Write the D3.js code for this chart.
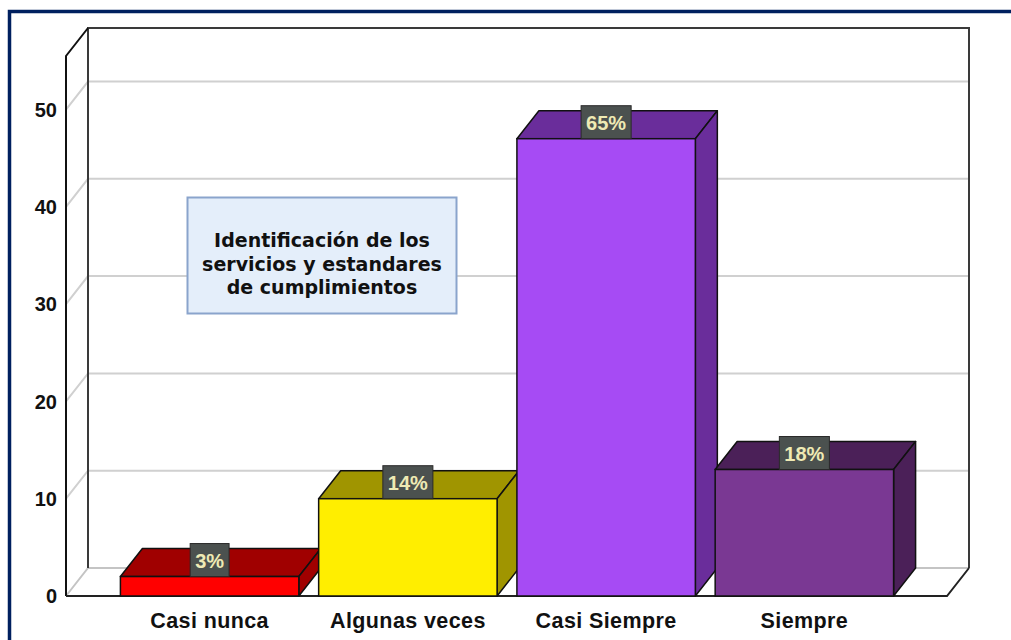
<!DOCTYPE html>
<meta charset="utf-8">
<style>
body { margin: 0; background: #fff; }
svg { display: block; }
.tick-label { font-family: "Liberation Sans", Arial, sans-serif; font-weight: bold; font-size: 20px; fill: #111; }
.cat-label { font-family: "Liberation Sans", Arial, sans-serif; font-weight: bold; font-size: 21.5px; letter-spacing: 0.4px; fill: #111; }
.pct { font-family: "Liberation Sans", Arial, sans-serif; font-weight: bold; font-size: 20px; fill: #eeeab4; }
.note { font-family: "DejaVu Sans", sans-serif; font-weight: bold; font-size: 19px; fill: #111; }
</style>
<svg width="1011" height="640"></svg>
<script src="https://cdnjs.cloudflare.com/ajax/libs/d3/7.8.5/d3.min.js"></script>
<script>

var categories = ["Casi nunca", "Algunas veces", "Casi Siempre", "Siempre"];
var counts = [2, 10, 47, 13];
var percents = ["3%", "14%", "65%", "18%"];
var yTicks = [0, 10, 20, 30, 40, 50];
var frontColors = ["#ff0000", "#ffee00", "#a64bf4", "#7a3893"];
var darkColors = ["#a00000", "#a09500", "#6a2d9b", "#4b2058"];
var noteLines = ["Identificación de los", "servicios y estandares", "de cumplimientos"];

var svg = d3.select("svg");

// depth of the 3d box
var dx = 22, dy = 28;
var left = 66, right = 947;

var x = d3.scaleBand()
    .domain(categories)
    .range([110.5, 903.5])
    .paddingInner(0.1)
    .paddingOuter(0.05);

var y = d3.scaleLinear()
    .domain([0, 55.5])
    .range([596, 56]);

// blue page border
svg.append("rect")
    .attr("x", 9.5).attr("y", 11.5)
    .attr("width", 1100).attr("height", 700)
    .attr("fill", "none")
    .attr("stroke", "#00205f")
    .attr("stroke-width", 3.5);

var g = svg.append("g");

// gridlines: diagonal on the left wall, then across the back wall
yTicks.slice(1).forEach(function(t) {
  g.append("polyline")
      .attr("points", [[left, y(t)], [left + dx, y(t) - dy], [right + dx, y(t) - dy]].join(" "))
      .attr("fill", "none")
      .attr("stroke", "#d0d0d0")
      .attr("stroke-width", 2);
});

// floor back edges (light)
g.append("polyline")
    .attr("points", [[left, y(0)], [left + dx, y(0) - dy], [right + dx, y(0) - dy]].join(" "))
    .attr("fill", "none")
    .attr("stroke", "#c4c4c4")
    .attr("stroke-width", 2);

// back wall frame
g.append("polyline")
    .attr("points", [[left + dx, y(0) - dy], [left + dx, y.range()[1] - dy], [right + dx, y.range()[1] - dy], [right + dx, y(0) - dy]].join(" "))
    .attr("fill", "none")
    .attr("stroke", "#3a3a3a")
    .attr("stroke-width", 2);

// left wall front edges
g.append("polyline")
    .attr("points", [[left, y(0)], [left, y.range()[1]], [left + dx, y.range()[1] - dy]].join(" "))
    .attr("fill", "none")
    .attr("stroke", "#111")
    .attr("stroke-width", 2);

// floor front edge + right diagonal
g.append("polyline")
    .attr("points", [[left, y(0)], [right, y(0)], [right + dx, y(0) - dy]].join(" "))
    .attr("fill", "none")
    .attr("stroke", "#222")
    .attr("stroke-width", 2);

// y tick labels
g.selectAll(".tick-label")
  .data(yTicks)
  .enter().append("text")
    .attr("class", "tick-label")
    .attr("x", 57)
    .attr("y", function(d) { return y(d); })
    .attr("dy", "0.36em")
    .attr("text-anchor", "end")
    .text(function(d) { return d; });

// bars
var bars = g.selectAll(".bar")
  .data(categories.map(function(c, i) { return {cat: c, v: counts[i], p: percents[i], i: i}; }))
  .enter().append("g")
    .attr("class", "bar");

bars.append("path")
    .attr("d", function(d) {
      var x0 = x(d.cat), x1 = x0 + x.bandwidth(), yv = y(d.v);
      return "M" + x0 + "," + yv + "L" + (x0 + dx) + "," + (yv - dy) + "L" + (x1 + dx) + "," + (yv - dy) + "L" + x1 + "," + yv + "Z";
    })
    .attr("fill", function(d) { return darkColors[d.i]; })
    .attr("stroke", "#111")
    .attr("stroke-width", 1.5)
    .attr("stroke-linejoin", "round");

bars.append("path")
    .attr("d", function(d) {
      var x1 = x(d.cat) + x.bandwidth(), yv = y(d.v), y0 = y(0);
      return "M" + x1 + "," + yv + "L" + (x1 + dx) + "," + (yv - dy) + "L" + (x1 + dx) + "," + (y0 - dy) + "L" + x1 + "," + y0 + "Z";
    })
    .attr("fill", function(d) { return darkColors[d.i]; })
    .attr("stroke", "#111")
    .attr("stroke-width", 1.5)
    .attr("stroke-linejoin", "round");

bars.append("rect")
    .attr("x", function(d) { return x(d.cat); })
    .attr("y", function(d) { return y(d.v); })
    .attr("width", x.bandwidth())
    .attr("height", function(d) { return y(0) - y(d.v); })
    .attr("fill", function(d) { return frontColors[d.i]; })
    .attr("stroke", "#111")
    .attr("stroke-width", 1.5);

// percentage labels
bars.each(function(d) {
  var b = d3.select(this);
  var cx = x(d.cat) + x.bandwidth() / 2, yv = y(d.v);
  var t = b.append("text")
      .attr("class", "pct")
      .attr("x", cx)
      .attr("y", yv - 16)
      .attr("dy", "0.36em")
      .attr("text-anchor", "middle")
      .text(d.p);
  var w = t.node().getComputedTextLength() + 10;
  b.insert("rect", "text")
      .attr("x", cx - w / 2)
      .attr("y", yv - 33)
      .attr("width", w)
      .attr("height", 33)
      .attr("fill", "#4b514f")
      .attr("stroke", "#2a2a2a")
      .attr("stroke-width", 1);
});

// category labels
g.selectAll(".cat-label")
  .data(categories)
  .enter().append("text")
    .attr("class", "cat-label")
    .attr("x", function(d) { return x(d) + x.bandwidth() / 2; })
    .attr("y", 628)
    .attr("text-anchor", "middle")
    .text(function(d) { return d; });

// annotation box
svg.append("rect")
    .attr("x", 187.5).attr("y", 197.5)
    .attr("width", 269).attr("height", 116)
    .attr("fill", "#e4eefa")
    .attr("stroke", "#8aa4cc")
    .attr("stroke-width", 2);

svg.append("g").selectAll("text")
  .data(noteLines)
  .enter().append("text")
    .attr("class", "note")
    .attr("x", 322)
    .attr("y", function(d, i) { return 247 + i * 23.5; })
    .attr("text-anchor", "middle")
    .text(function(d) { return d; });

</script>
